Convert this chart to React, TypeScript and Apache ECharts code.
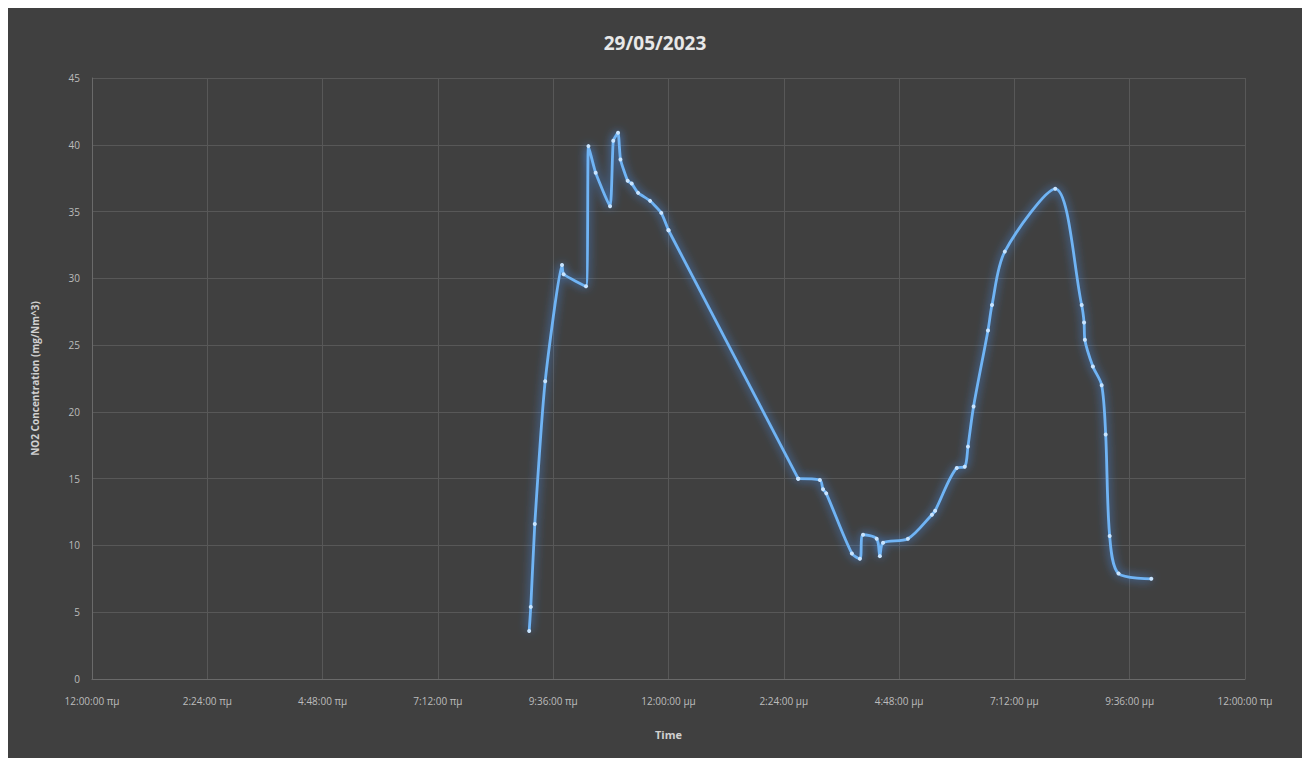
import React, { useEffect, useRef } from "react";
import * as echarts from "echarts";

const titleText = "29/05/2023";
const yAxisName = "NO2 Concentration (mg/Nm^3)";
const xAxisName = "Time";

const times = [
  "09:06", "09:08", "09:13", "09:26", "09:47", "09:49", "10:17", "10:20", "10:29", "10:47",
  "10:51", "10:57", "11:00", "11:09", "11:14", "11:22", "11:37", "11:51", "12:00",
  "14:42", "15:09", "15:13", "15:17", "15:49", "15:59", "16:03", "16:20", "16:24", "16:28",
  "16:59", "17:29", "17:33", "18:00", "18:10", "18:14", "18:21", "18:39", "18:44", "19:00",
  "20:03", "20:36", "20:39", "20:40", "20:50", "21:01", "21:06", "21:11", "21:22", "22:03",
];
const values = [
  3.6, 5.4, 11.6, 22.3, 31.0, 30.3, 29.4, 39.9, 37.9, 35.4,
  40.3, 40.9, 38.9, 37.3, 37.1, 36.4, 35.8, 34.9, 33.6,
  15.0, 14.9, 14.2, 13.9, 9.4, 9.0, 10.8, 10.5, 9.2, 10.2,
  10.5, 12.3, 12.6, 15.8, 15.9, 17.4, 20.4, 26.1, 28.0, 32.0,
  36.7, 28.0, 26.7, 25.4, 23.4, 22.0, 18.3, 10.7, 7.9, 7.5,
];
const xTickLabels = [
  "12:00:00 πμ", "2:24:00 πμ", "4:48:00 πμ", "7:12:00 πμ", "9:36:00 πμ", "12:00:00 μμ",
  "2:24:00 μμ", "4:48:00 μμ", "7:12:00 μμ", "9:36:00 μμ", "12:00:00 πμ",
];
// index where the long straight morning-to-afternoon stretch ends
const splitIndex = 19;

const toMinutes = (s: string) => {
  const [h, m] = s.split(":").map(Number);
  return h * 60 + m;
};

export default function App() {
  const ref = useRef<HTMLDivElement>(null);
  useEffect(() => {
    if (!ref.current) return;
    const chart = echarts.init(ref.current, undefined, { renderer: "svg" });
    const data = times.map((t, i) => [toMinutes(t), values[i]]);
    const lineSeries = (d: number[][], smooth: number) => ({
      type: "line",
      data: d,
      smooth,
      symbol: "circle",
      symbolSize: 4,
      itemStyle: { color: "#c8e4ff", borderWidth: 0 },
      lineStyle: {
        color: "#6fb4f5",
        width: 2.8,
        shadowColor: "rgba(70,150,255,0.95)",
        shadowBlur: 10,
      },
    });
    chart.setOption({
      animation: false,
      backgroundColor: "#404040",
      title: {
        text: titleText,
        left: "center",
        top: 20,
        textStyle: { color: "#e8e8e8", fontSize: 19, fontWeight: "bold", fontFamily: "Open Sans" },
      },
      grid: { left: 84, right: 57, top: 70, bottom: 79 },
      xAxis: {
        type: "value",
        min: 0,
        max: 1440,
        interval: 144,
        name: xAxisName,
        nameLocation: "middle",
        nameGap: 50,
        nameTextStyle: { color: "#d0d0d0", fontSize: 11, fontWeight: "bold", fontFamily: "Open Sans" },
        axisLine: { show: true, lineStyle: { color: "#6a6a6a" } },
        axisTick: { show: false },
        axisLabel: {
          color: "#bcbcbc",
          fontSize: 10,
          margin: 17,
          fontFamily: "Open Sans",
          formatter: (v: number) => xTickLabels[Math.round(v / 144)] ?? "",
        },
        splitLine: { show: true, lineStyle: { color: "#585858", width: 1 } },
      },
      yAxis: {
        type: "value",
        min: 0,
        max: 45,
        interval: 5,
        name: yAxisName,
        nameLocation: "middle",
        nameGap: 52,
        nameTextStyle: { color: "#d0d0d0", fontSize: 10, fontWeight: "bold", fontFamily: "Open Sans" },
        axisLine: { show: true, lineStyle: { color: "#6a6a6a" } },
        axisTick: { show: false },
        axisLabel: { color: "#bcbcbc", fontSize: 10, margin: 12, fontFamily: "Open Sans" },
        splitLine: { show: true, lineStyle: { color: "#585858", width: 1 } },
      },
      series: [
        lineSeries(data.slice(0, splitIndex), 0.15),
        lineSeries(data.slice(splitIndex - 1, splitIndex + 1), 0),
        lineSeries(data.slice(splitIndex), 0.3),
      ],
    });
    return () => chart.dispose();
  }, []);
  return <div ref={ref} style={{ width: 1294, height: 750 }} />;
}
